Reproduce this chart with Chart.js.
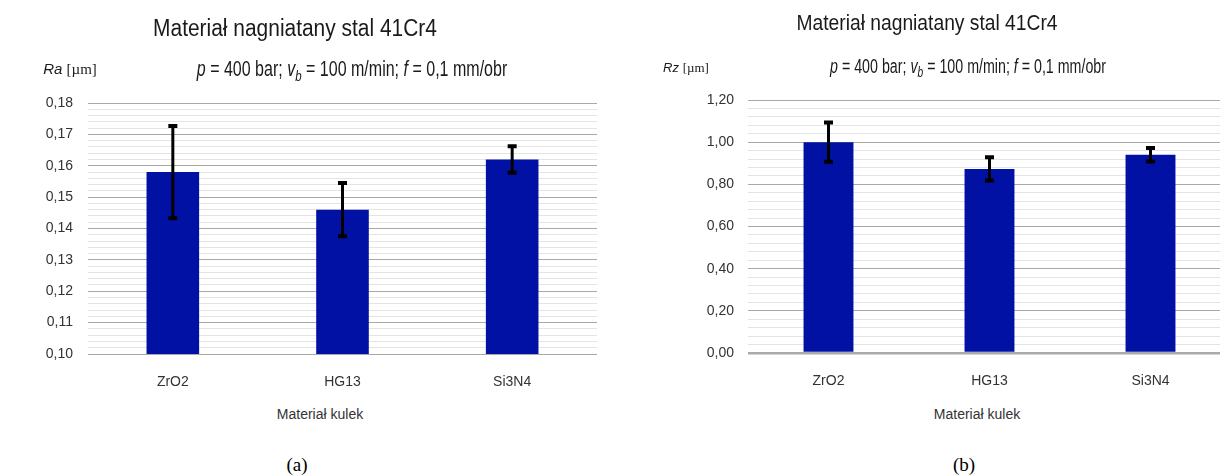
<!DOCTYPE html>
<html>
<head>
<meta charset="utf-8">
<script src="https://cdn.jsdelivr.net/npm/chart.js"></script>
<style>
    html, body { margin: 0; padding: 0; background: #fff; overflow: hidden; }
    .page { position: relative; width: 1220px; height: 476px; overflow: hidden; }
    canvas { position: absolute; top: 0; }
    .txt { position: absolute; white-space: nowrap; line-height: 1; transform: translate(-50%, -50%);
           font-family: "Liberation Sans", Arial, sans-serif; color: #1a1a1a; }
    .sub { font-size: 0.72em; position: relative; top: 0.3em; }
    .serif { font-family: "Liberation Serif", "Times New Roman", serif; }
</style>
</head>
<body>
<div class="page">
    <canvas id="chart-ra" width="620" height="400" style="left:0px"></canvas>
    <canvas id="chart-rz" width="600" height="400" style="left:640px"></canvas>

    <div class="txt" style="left:295px; top:28px; font-size:23px; transform:translate(-50%,-50%) scaleX(0.91)">Materiał nagniatany stal 41Cr4</div>
    <div class="txt" style="left:352px; top:70px; font-size:21.5px; transform:translate(-50%,-50%) scaleX(0.745)"><i>p</i> = 400 bar; <i>v<span class="sub">b</span></i> = 100 m/min; <i>f</i> = 0,1 mm/obr</div>
    <div class="txt" style="left:70px; top:69px; font-size:15px"><i>Ra</i> <span class="serif">[µm]</span></div>
    <div class="txt" style="left:320px; top:414px; font-size:14px; color:#333">Materiał kulek</div>
    <div class="txt serif" style="left:297px; top:464px; font-size:19px; color:#000">(a)</div>

    <div class="txt" style="left:927px; top:23px; font-size:22px; transform:translate(-50%,-50%) scaleX(0.875)">Materiał nagniatany stal 41Cr4</div>
    <div class="txt" style="left:968px; top:67px; font-size:19.5px; transform:translate(-50%,-50%) scaleX(0.73)"><i>p</i> = 400 bar; <i>v<span class="sub">b</span></i> = 100 m/min; <i>f</i> = 0,1 mm/obr</div>
    <div class="txt" style="left:686px; top:67px; font-size:13px"><i>Rz</i> <span class="serif">[µm]</span></div>
    <div class="txt" style="left:977px; top:414px; font-size:14px; color:#333">Materiał kulek</div>
    <div class="txt serif" style="left:964px; top:464px; font-size:19px; color:#000">(b)</div>
</div>

<script>
    "use strict";

    // data
    const categories = ['ZrO2', 'HG13', 'Si3N4'];

    const raValues = [0.158, 0.146, 0.162];
    const raErrors = [0.0147, 0.0085, 0.0042];
    const raAxis = { min: 0.10, max: 0.18, minorStep: 0.002 };

    const rzValues = [1.00, 0.873, 0.94];
    const rzErrors = [0.093, 0.055, 0.032];
    const rzAxis = { min: 0.00, max: 1.20, minorStep: 0.04 };

    const MAJOR_EVERY = 5;

    // draws the black error whiskers on top of the bars
    const errorBars = {
        id: 'errorBars',
        afterDatasetsDraw(chart, args, opts) {
            var ctx = chart.ctx;
            var yScale = chart.scales.y;
            var values = chart.data.datasets[0].data;
            ctx.save();
            ctx.strokeStyle = '#000';
            chart.getDatasetMeta(0).data.forEach(function (bar, i) {
                var top = yScale.getPixelForValue(values[i] + opts.errors[i]);
                var bottom = yScale.getPixelForValue(values[i] - opts.errors[i]);
                ctx.lineWidth = 3;
                ctx.beginPath();
                ctx.moveTo(bar.x, top);
                ctx.lineTo(bar.x, bottom);
                ctx.stroke();
                ctx.lineWidth = 4;
                ctx.beginPath();
                ctx.moveTo(bar.x - 4.5, top);
                ctx.lineTo(bar.x + 4.5, top);
                ctx.moveTo(bar.x - 4.5, bottom);
                ctx.lineTo(bar.x + 4.5, bottom);
                ctx.stroke();
            });
            ctx.restore();
        }
    };

    function createBarChart(id, values, errors, axis, box) {
        var ctx = document.getElementById(id).getContext('2d');
        return new Chart(ctx, {
            type: 'bar',
            data: {
                labels: categories,
                datasets: [{
                    data: values,
                    backgroundColor: '#0011a3',
                    barPercentage: 0.31,
                    categoryPercentage: 1.0
                }]
            },
            options: {
                responsive: false,
                animation: false,
                devicePixelRatio: 1,
                layout: { padding: { left: 0, top: box.top, right: box.right, bottom: 0 } },
                plugins: {
                    legend: { display: false },
                    tooltip: { enabled: false },
                    errorBars: { errors: errors }
                },
                scales: {
                    x: {
                        afterFit: function (scale) { scale.height = box.xHeight; },
                        grid: { display: false },
                        border: { display: false },
                        ticks: {
                            padding: 12,
                            color: '#333',
                            font: { family: '"Liberation Sans", Arial, sans-serif', size: 14 }
                        }
                    },
                    y: {
                        min: axis.min,
                        max: axis.max,
                        afterFit: function (scale) { scale.width = box.yWidth; },
                        border: { display: false },
                        grid: {
                            drawTicks: false,
                            color: function (c) { return c.index % MAJOR_EVERY === 0 ? '#a9a9a9' : '#e4e4e4'; },
                            lineWidth: function (c) { return (c.index === 0 && box.thickBase) ? 2.5 : 1; }
                        },
                        ticks: {
                            stepSize: axis.minorStep,
                            autoSkip: false,
                            padding: box.tickPad,
                            color: '#333',
                            font: { family: '"Liberation Sans", Arial, sans-serif', size: 14 },
                            callback: function (value, index) {
                                return index % MAJOR_EVERY === 0 ? value.toFixed(2).replace('.', ',') : '';
                            }
                        }
                    }
                }
            },
            plugins: [errorBars]
        });
    }

    createBarChart('chart-ra', raValues, raErrors, raAxis,
        { top: 103, right: 23, xHeight: 46, yWidth: 88, tickPad: 15, thickBase: false });
    createBarChart('chart-rz', rzValues, rzErrors, rzAxis,
        { top: 100, right: 9, xHeight: 47, yWidth: 108, tickPad: 14, thickBase: true });
</script>
</body>
</html>
